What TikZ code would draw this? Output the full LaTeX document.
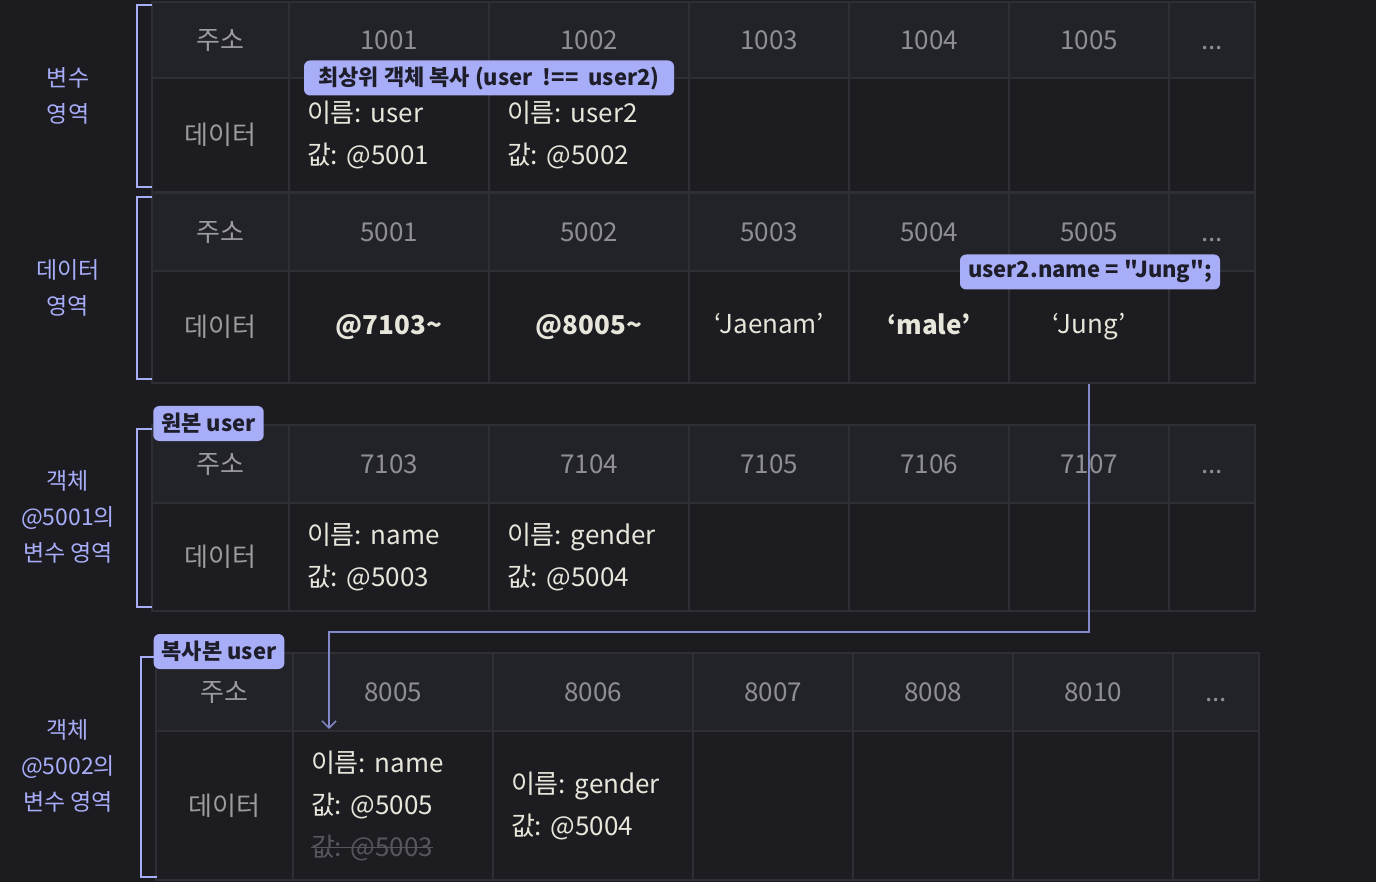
\documentclass[tikz,border=0pt]{standalone}
\usepackage{fontspec}
\setmainfont{Noto Sans CJK KR}[Ligatures=TeXOff]
\usetikzlibrary{arrows.meta}
\frenchspacing
\newlength\strikelen
\newcommand\strikeout[1]{\leavevmode\settowidth\strikelen{#1}\rlap{\rule[0.3em]{\strikelen}{1.6pt}}#1}
\definecolor{bg}{HTML}{1B1B20}
\definecolor{headbg}{HTML}{222328}
\definecolor{databg}{HTML}{1C1C21}
\definecolor{gridline}{HTML}{2E2F34}
\definecolor{numgray}{HTML}{8E8E93}
\definecolor{keygray}{HTML}{9C9CA0}
\definecolor{valtext}{HTML}{E8E6DA}
\definecolor{oldval}{HTML}{56565C}
\definecolor{lavender}{HTML}{A8ADF8}
\definecolor{linkline}{HTML}{8388C9}
\definecolor{badgetext}{HTML}{1E1E2A}

\begin{document}
\begin{tikzpicture}[x=1pt,y=-1pt]
\tikzset{cell/.style = {draw=gridline, line width=2pt, inner sep=0pt, font=\fontsize{26}{42}\selectfont},
  headrow/.style = {cell, fill=headbg, text=numgray, minimum height=78},
  datarow/.style = {cell, fill=databg, text=valtext},
  keycol/.style = {text=keygray, minimum width=137},
  widecol/.style = {minimum width=200},
  midcol/.style = {minimum width=160},
  morecol/.style = {minimum width=86},
  pair/.style = {align=left, text width=164pt, inner xsep=18pt},
  area/.style = {text=lavender, align=center, font=\fontsize{23}{36}\selectfont},
  bracket/.style = {draw=lavender, line width=2pt},
  badge/.style = {fill=lavender, text=badgetext, rounded corners=6pt, inner xsep=8pt, inner ysep=0pt, minimum height=35, font=\bfseries\fontsize{22}{22}\selectfont},
  link/.style = {draw=linkline, line width=1.5pt, -{Straight Barb[length=7pt,width=14pt]}}}

\path[use as bounding box, fill=bg] (0,0) rectangle (1376,882);

% 변수 영역
\node[headrow,keycol,minimum height=76] (ah0) at (220.5,40) {주소};
\node[headrow,widecol,minimum height=76] (ah1) at (389,40) {1001};
\node[headrow,widecol,minimum height=76] (ah2) at (589,40) {1002};
\node[headrow,midcol,minimum height=76] (ah3) at (769,40) {1003};
\node[headrow,midcol,minimum height=76] (ah4) at (929,40) {1004};
\node[headrow,midcol,minimum height=76] (ah5) at (1089,40) {1005};
\node[headrow,morecol,minimum height=76] (ah6) at (1212,40) {\vphantom{0}...};
\node[datarow,keycol,minimum height=114] (ad0) at (220.5,135) {데이터};
\node[datarow,widecol,pair,minimum height=114] (ad1) at (389,135) {이름: user\\값: @5001};
\node[datarow,widecol,pair,minimum height=114] (ad2) at (589,135) {이름: user2\\값: @5002};
\node[datarow,midcol,minimum height=114] (ad3) at (769,135) {};
\node[datarow,midcol,minimum height=114] (ad4) at (929,135) {};
\node[datarow,midcol,minimum height=114] (ad5) at (1089,135) {};
\node[datarow,morecol,minimum height=114] (ad6) at (1212,135) {};

% 데이터 영역
\node[headrow,keycol] (bh0) at (220.5,232) {주소};
\node[headrow,widecol] (bh1) at (389,232) {5001};
\node[headrow,widecol] (bh2) at (589,232) {5002};
\node[headrow,midcol] (bh3) at (769,232) {5003};
\node[headrow,midcol] (bh4) at (929,232) {5004};
\node[headrow,midcol] (bh5) at (1089,232) {5005};
\node[headrow,morecol] (bh6) at (1212,232) {\vphantom{0}...};
\node[datarow,keycol,minimum height=112] (bd0) at (220.5,327) {데이터};
\node[datarow,widecol,minimum height=112] (bd1) at (389,327) {\bfseries @7103\textasciitilde};
\node[datarow,widecol,minimum height=112] (bd2) at (589,327) {\bfseries @8005\textasciitilde};
\node[datarow,midcol,minimum height=112] (bd3) at (769,327) {‘Jaenam’\vphantom{g}};
\node[datarow,midcol,minimum height=112] (bd4) at (929,327) {\bfseries ‘male’\vphantom{g}};
\node[datarow,midcol,minimum height=112] (bd5) at (1089,327) {‘Jung’};
\node[datarow,morecol,minimum height=112] (bd6) at (1212,327) {};

% 객체 @5001
\node[headrow,keycol] (ch0) at (220.5,464) {주소};
\node[headrow,widecol] (ch1) at (389,464) {7103};
\node[headrow,widecol] (ch2) at (589,464) {7104};
\node[headrow,midcol] (ch3) at (769,464) {7105};
\node[headrow,midcol] (ch4) at (929,464) {7106};
\node[headrow,midcol] (ch5) at (1089,464) {7107};
\node[headrow,morecol] (ch6) at (1212,464) {\vphantom{0}...};
\node[datarow,keycol,minimum height=108] (cd0) at (220.5,557) {데이터};
\node[datarow,widecol,pair,minimum height=108] (cd1) at (389,557) {이름: name\\값: @5003};
\node[datarow,widecol,pair,minimum height=108] (cd2) at (589,557) {이름: gender\\값: @5004};
\node[datarow,midcol,minimum height=108] (cd3) at (769,557) {};
\node[datarow,midcol,minimum height=108] (cd4) at (929,557) {};
\node[datarow,midcol,minimum height=108] (cd5) at (1089,557) {};
\node[datarow,morecol,minimum height=108] (cd6) at (1212,557) {};

% 객체 @5002
\node[headrow,keycol] (dh0) at (224.5,692) {주소};
\node[headrow,widecol] (dh1) at (393,692) {8005};
\node[headrow,widecol] (dh2) at (593,692) {8006};
\node[headrow,midcol] (dh3) at (773,692) {8007};
\node[headrow,midcol] (dh4) at (933,692) {8008};
\node[headrow,midcol] (dh5) at (1093,692) {8010};
\node[headrow,morecol] (dh6) at (1216,692) {\vphantom{0}...};
\node[datarow,keycol,minimum height=149] (dd0) at (224.5,805.5) {데이터};
\node[datarow,widecol,pair,minimum height=149] (dd1) at (393,805.5) {이름: name\\값: @5005\\\textcolor{oldval}{\strikeout{값: @5003}}};
\node[datarow,widecol,pair,minimum height=149] (dd2) at (593,805.5) {이름: gender\\값: @5004};
\node[datarow,midcol,minimum height=149] (dd3) at (773,805.5) {};
\node[datarow,midcol,minimum height=149] (dd4) at (933,805.5) {};
\node[datarow,midcol,minimum height=149] (dd5) at (1093,805.5) {};
\node[datarow,morecol,minimum height=149] (dd6) at (1216,805.5) {};

\node[area] (varname) at (68,95.5) {변수\\영역};
\node[area] (dataname) at (68,287.5) {데이터\\영역};
\node[area] (origname) at (68,517) {객체\\@5001의\\변수 영역};
\node[area] (clonename) at (68,766) {객체\\@5002의\\변수 영역};

\draw[bracket] (152,5) -| (137,187) -- (152,187);
\draw[bracket] (152,197) -| (137,379) -- (152,379);
\draw[bracket] (152,429) -| (137,607) -- (152,607);
\draw[bracket] (157,657) -| (141,877) -- (157,877);

\coordinate (elbow) at (329,632);
\coordinate (tip) at (329,729);
\draw[link] (bd5.south) |- (elbow) -- (tip);

\node[badge,minimum width=370] (copytag) at (489,78) {최상위 객체 복사 (user\ \ !==\ \ user2)};
\node[badge] (renametag) at (1090,272) {user2.name = "Jung";};
\node[badge] (origtag) at (208.5,423.5) {원본 user};
\node[badge] (clonetag) at (219,651.5) {복사본 user};
\end{tikzpicture}
\end{document}
